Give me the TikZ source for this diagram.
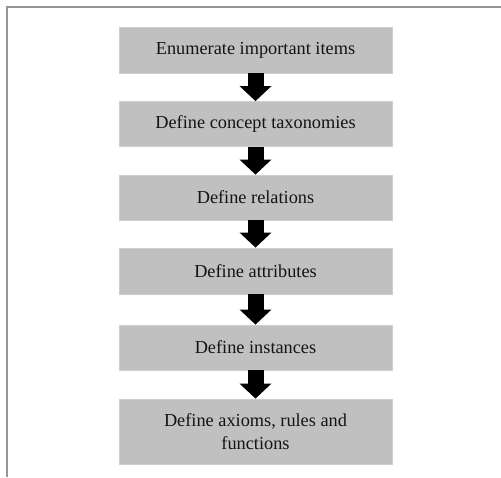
\documentclass[tikz,border=0pt]{standalone}
\usepackage{fontspec}
\setmainfont{Liberation Serif}
\usetikzlibrary{arrows.meta}
\definecolor{boxfill}{RGB}{192,192,192}
\definecolor{boxedge}{RGB}{206,206,206}
\definecolor{frame}{RGB}{150,150,150}
\begin{document}
\begin{tikzpicture}[x=1pt,y=-1pt,
  stepbox/.style={fill=boxfill,draw=boxedge,line width=0.8pt,minimum width=273pt,
    inner sep=0pt,align=center,font=\fontsize{18.3}{22.5}\selectfont,text=black!92},
  flowarrow/.style={line width=16pt,draw=black,-{Triangle[width=31pt,length=15pt]}}]
\useasboundingbox (0,0) rectangle (501,477);
\coordinate (fbl) at (7,477);
\coordinate (ftl) at (7,7);
\coordinate (ftr) at (501,7);
\draw[frame,line width=2pt] (fbl) -- (ftl) -- (ftr);
\node[stepbox,minimum height=46pt] (b1) at (255.5,50) {Enumerate important items};
\node[stepbox,minimum height=45pt] (b2) at (255.5,124) {Define concept taxonomies};
\node[stepbox,minimum height=45pt] (b3) at (255.5,197.5) {Define relations};
\node[stepbox,minimum height=46pt] (b4) at (255.5,271) {Define attributes};
\node[stepbox,minimum height=45pt] (b5) at (255.5,347.5) {Define instances};
\node[stepbox,minimum height=65pt] (b6) at (255.5,431.5) {Define axioms, rules and\\functions};
\draw[flowarrow] (b1.south) -- (b2.north);
\draw[flowarrow] (b2.south) -- (b3.north);
\draw[flowarrow] (b3.south) -- (b4.north);
\draw[flowarrow] (b4.south) -- (b5.north);
\draw[flowarrow] (b5.south) -- (b6.north);
\end{tikzpicture}
\end{document}
